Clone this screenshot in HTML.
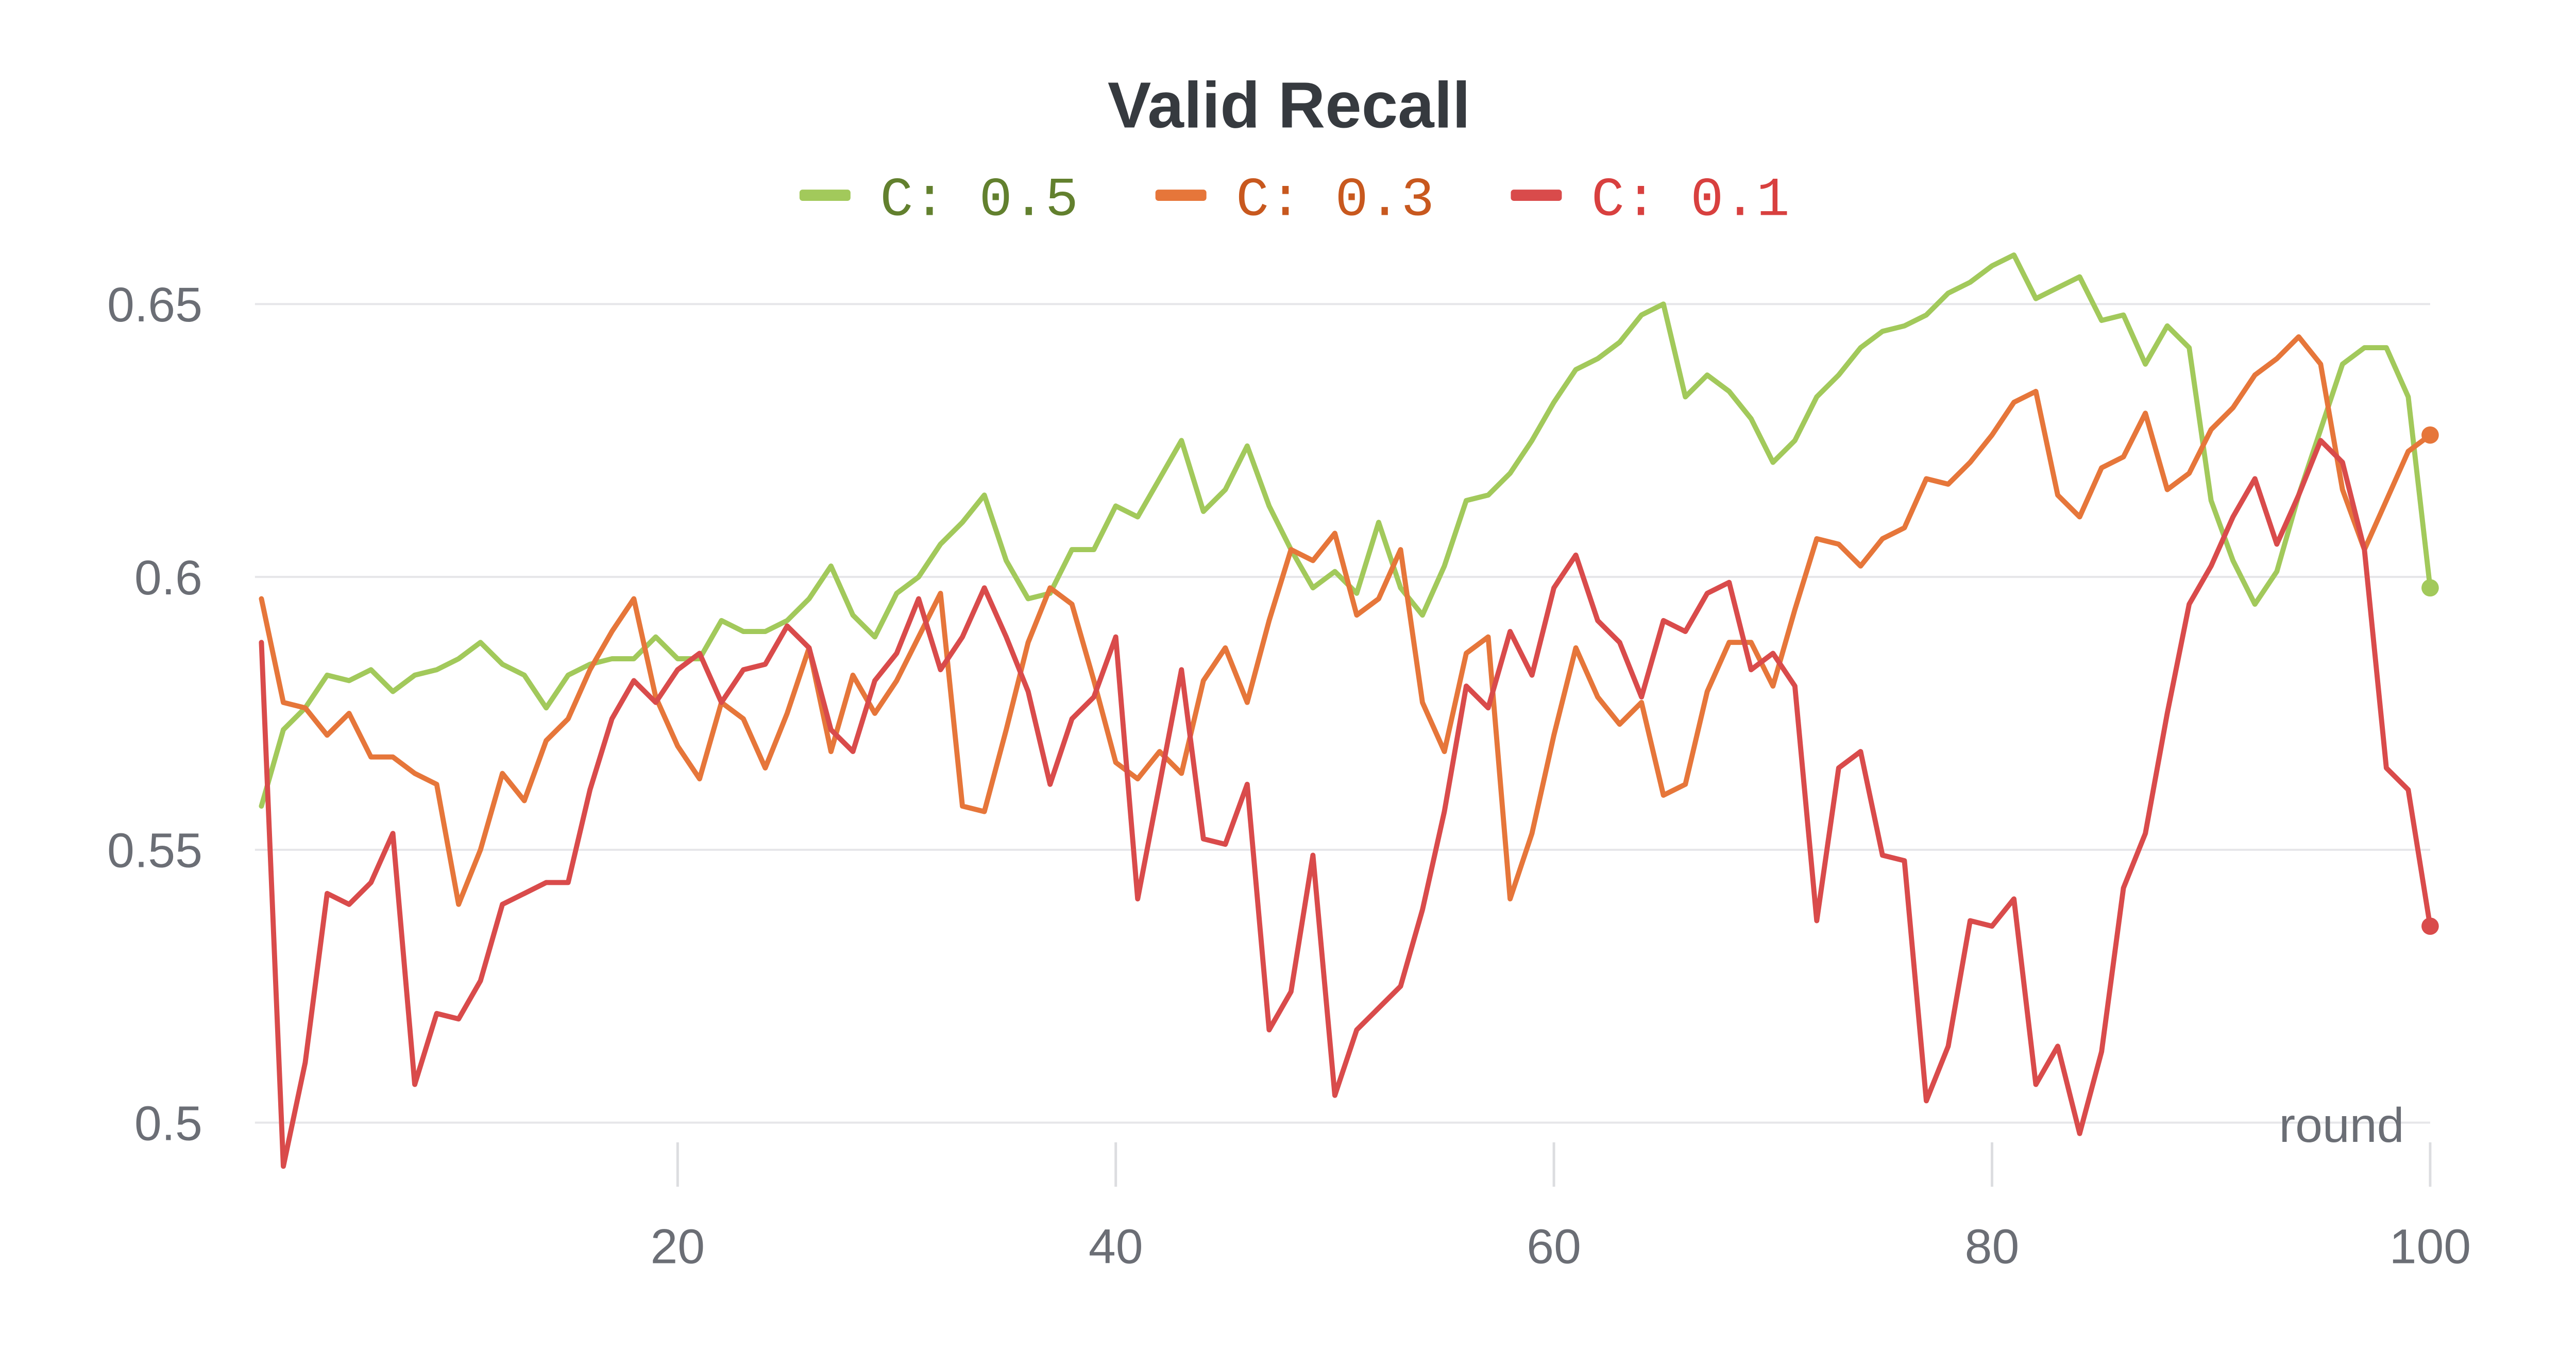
<!DOCTYPE html>
<html><head><meta charset="utf-8"><style>
html,body{margin:0;padding:0;background:#fff;}
svg{display:block;}
</style></head><body>
<svg id="chart" width="5056" height="2656" viewBox="0 0 5056 2656" xmlns="http://www.w3.org/2000/svg">
<g id="root" transform="scale(0.9897)">
<text x="2528" y="250" text-anchor="middle" font-family="Liberation Sans, sans-serif" font-weight="bold" font-size="128" fill="#363a3f">Valid Recall</text>
<g id="legend"></g>
<g id="grid"></g>
<g id="series"></g>
<text x="4715" y="2240" text-anchor="end" font-family="Liberation Sans, sans-serif" font-size="96" fill="#6b6e75">round</text>
</g>
</svg>
<script>
const yTicks = [0.5, 0.55, 0.6, 0.65];
const yTickLabels = ["0.5", "0.55", "0.6", "0.65"];
const xTicks = [20, 40, 60, 80, 100];
const seriesNames = ["C: 0.5", "C: 0.3", "C: 0.1"];
const greenValues = [0.558,0.572,0.576,0.582,0.581,0.583,0.579,0.582,0.583,0.585,0.588,0.584,0.582,0.576,0.582,0.584,0.585,0.585,0.589,0.585,0.585,0.592,0.590,0.590,0.592,0.596,0.602,0.593,0.589,0.597,0.600,0.606,0.610,0.615,0.603,0.596,0.597,0.605,0.605,0.613,0.611,0.618,0.625,0.612,0.616,0.624,0.613,0.605,0.598,0.601,0.597,0.610,0.598,0.593,0.602,0.614,0.615,0.619,0.625,0.632,0.638,0.640,0.643,0.648,0.650,0.633,0.637,0.634,0.629,0.621,0.625,0.633,0.637,0.642,0.645,0.646,0.648,0.652,0.654,0.657,0.659,0.651,0.653,0.655,0.647,0.648,0.639,0.646,0.642,0.614,0.603,0.595,0.601,0.615,0.627,0.639,0.642,0.642,0.633,0.598];
const orangeValues = [0.596,0.577,0.576,0.571,0.575,0.567,0.567,0.564,0.562,0.540,0.550,0.564,0.559,0.570,0.574,0.583,0.590,0.596,0.578,0.569,0.563,0.577,0.574,0.565,0.575,0.587,0.568,0.582,0.575,0.581,0.589,0.597,0.558,0.557,0.572,0.588,0.598,0.595,0.581,0.566,0.563,0.568,0.564,0.581,0.587,0.577,0.592,0.605,0.603,0.608,0.593,0.596,0.605,0.577,0.568,0.586,0.589,0.541,0.553,0.571,0.587,0.578,0.573,0.577,0.560,0.562,0.579,0.588,0.588,0.580,0.594,0.607,0.606,0.602,0.607,0.609,0.618,0.617,0.621,0.626,0.632,0.634,0.615,0.611,0.620,0.622,0.630,0.616,0.619,0.627,0.631,0.637,0.640,0.644,0.639,0.616,0.605,0.614,0.623,0.626];
const redValues = [0.588,0.492,0.511,0.542,0.540,0.544,0.553,0.507,0.520,0.519,0.526,0.540,0.542,0.544,0.544,0.561,0.574,0.581,0.577,0.583,0.586,0.577,0.583,0.584,0.591,0.587,0.572,0.568,0.581,0.586,0.596,0.583,0.589,0.598,0.589,0.579,0.562,0.574,0.578,0.589,0.541,0.562,0.583,0.552,0.551,0.562,0.517,0.524,0.549,0.505,0.517,0.521,0.525,0.539,0.557,0.580,0.576,0.590,0.582,0.598,0.604,0.592,0.588,0.578,0.592,0.590,0.597,0.599,0.583,0.586,0.580,0.537,0.565,0.568,0.549,0.548,0.504,0.514,0.537,0.536,0.541,0.507,0.514,0.498,0.513,0.543,0.553,0.575,0.595,0.602,0.611,0.618,0.606,0.615,0.625,0.621,0.605,0.565,0.561,0.536];
const allSeries = [greenValues, orangeValues, redValues];
const lineColors = ["#a2c95b", "#e6763a", "#d94b4b"];
const textColors = ["#62802e", "#c8581e", "#d8403f"];

const NS = "http://www.w3.org/2000/svg";
const X0 = 512.7, X1 = 4766, Y0 = 2202.3, Y1 = 596.5;
function xScale(i){ return X0 + (i-1)*(X1-X0)/99; }
function yScale(v){ return Y0 + (v-0.5)*(Y1-Y0)/0.15; }
function mk(tag, attrs, parent){ const e=document.createElementNS(NS,tag); for(const k in attrs) e.setAttribute(k,attrs[k]); parent.appendChild(e); return e; }

const grid = document.getElementById('grid');
yTicks.forEach((t,k)=>{
  const l = mk('line',{x1:500,x2:4766,y1:yScale(t),y2:yScale(t),stroke:'#e6e6e9','stroke-width':4},grid);
  
  
  const tx = mk('text',{x:397,y:yScale(t)+34,'text-anchor':'end','font-family':'Liberation Sans, sans-serif','font-size':96,fill:'#6b6e75'},grid);
  tx.textContent = yTickLabels[k];
  
  
});
xTicks.forEach(t=>{
  const l = mk('line',{x1:xScale(t),x2:xScale(t),y1:2241,y2:2328,stroke:'#dcdde0','stroke-width':5},grid);
  
  
  const tx = mk('text',{x:xScale(t),y:2478,'text-anchor':'middle','font-family':'Liberation Sans, sans-serif','font-size':96,fill:'#6b6e75'},grid);
  tx.textContent = String(t);
  
  
});

const sg = document.getElementById('series');
allSeries.forEach((vals,s)=>{
  const d = vals.map((v,i)=>(i?'L':'M')+xScale(i+1).toFixed(1)+','+yScale(v).toFixed(1)).join(' ');
  const p = mk('path',{d:d,fill:'none',stroke:lineColors[s],'stroke-width':10,'stroke-linejoin':'round','stroke-linecap':'round'},sg);
  
  
  const c = mk('circle',{cx:xScale(vals.length),cy:yScale(vals[vals.length-1]),r:17,fill:lineColors[s]},sg);
  
  
});

const lg = document.getElementById('legend');
const legX = [1568, 2266, 2963];
seriesNames.forEach((n,s)=>{
  const r = mk('rect',{x:legX[s],y:372,width:100,height:22,rx:6,fill:lineColors[s]},lg);
  
  
  const t = mk('text',{x:legX[s]+158,y:422,'font-family':'Liberation Mono, monospace','font-size':108,fill:textColors[s]},lg);
  t.textContent = n;
  
  
});
</script>
</body></html>
